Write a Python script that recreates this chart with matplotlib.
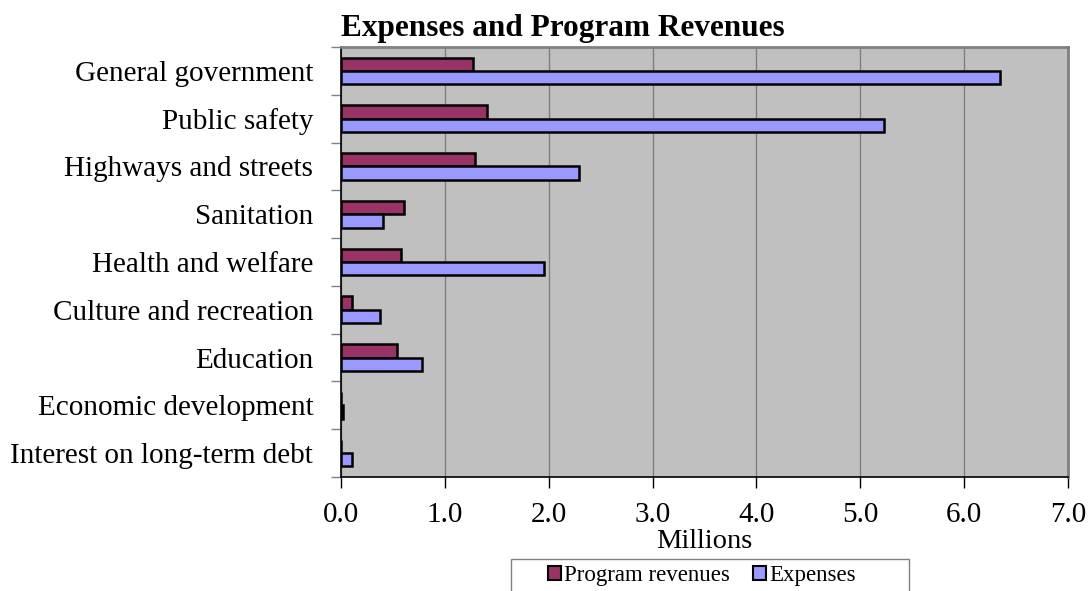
import matplotlib
matplotlib.use("Agg")
import matplotlib.pyplot as plt
import numpy as np
from matplotlib.patches import Patch, Rectangle

# categories top to bottom
categories = ["General government", "Public safety", "Highways and streets",
              "Sanitation", "Health and welfare", "Culture and recreation",
              "Education", "Economic development", "Interest on long-term debt"]
# millions
program_revenues = [1.27, 1.41, 1.29, 0.61, 0.58, 0.11, 0.54, 0.0, 0.0]
expenses = [6.35, 5.23, 2.29, 0.40, 1.95, 0.38, 0.78, 0.02, 0.11]
xticks = [0, 1, 2, 3, 4, 5, 6, 7]

plt.rcParams['font.family'] = ['Liberation Serif', 'DejaVu Serif']

W, H = 1091, 591
fig = plt.figure(figsize=(W/100, H/100), dpi=100)
ax = fig.add_axes([341/W, 1 - 477/H, (1068-341)/W, (477-47)/H])

ax.set_facecolor('#C0C0C0')
y = np.arange(len(categories))
h = 0.28
ax.barh(y - h/2, program_revenues, height=h, color='#993366',
        edgecolor='black', linewidth=1.8, zorder=3)
ax.barh(y + h/2, expenses, height=h, color='#9999FF',
        edgecolor='black', linewidth=1.8, zorder=3)

ax.set_xlim(0, 7)
ax.set_ylim(len(categories) - 0.5, -0.5)
ax.set_xticks(xticks)
ax.set_xticklabels([f"{v:.1f}" for v in xticks], fontsize=21)
ax.xaxis.grid(True, color='#808080', linewidth=1, zorder=1)

# category labels between boundary ticks (excel style)
ax.set_yticks(np.arange(len(categories) + 1) - 0.5)
ax.set_yticklabels([])
ax.set_yticks(y, minor=True)
ax.set_yticklabels(categories, minor=True, fontsize=21)
ax.tick_params(axis='y', which='minor', length=0, pad=20)
ax.tick_params(axis='y', which='major', length=7, color='#808080', width=1)
ax.tick_params(axis='x', length=8, width=1, color='black', pad=10)

for s in ['left', 'bottom']:
    ax.spines[s].set_color('black')
    ax.spines[s].set_linewidth(1.2)
for s in ['top', 'right']:
    ax.spines[s].set_color('#808080')
    ax.spines[s].set_linewidth(2)

ax.set_xlabel("Millions", fontsize=20.5, labelpad=1)

fig.text(341/W, 1 - 36/H, "Expenses and Program Revenues",
         fontsize=22.5, fontweight='bold', ha='left', va='baseline')

# legend box (cut by the figure edge)
fig.patches.append(Rectangle((511/W, -0.02), (909-511)/W, 0.02 + 32/H,
                             transform=fig.transFigure, facecolor='white',
                             edgecolor='#808080', linewidth=1))
handles = [Patch(facecolor='#993366', edgecolor='black', linewidth=1.5),
           Patch(facecolor='#9999FF', edgecolor='black', linewidth=1.5)]
fig.legend(handles, ["Program revenues", "Expenses"], ncol=2,
           loc='center', bbox_to_anchor=(702/W, 1 - 576/H),
           fontsize=16.5, frameon=False,
           handlelength=0.55, handleheight=0.55, handletextpad=0.15,
           columnspacing=1.0, borderpad=0)

fig.savefig("out.png", dpi=100)
